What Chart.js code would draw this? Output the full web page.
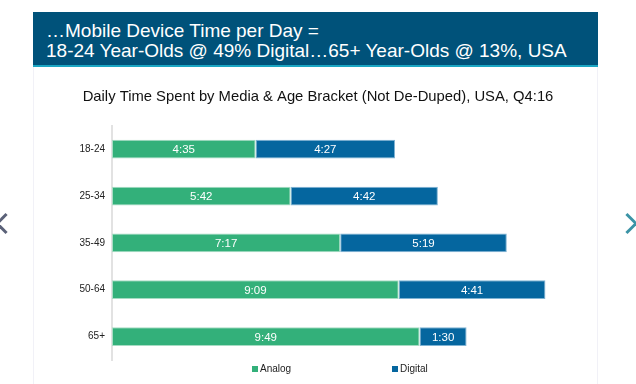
<!DOCTYPE html>
<html>
<head>
<meta charset="utf-8">
<script src="https://cdn.jsdelivr.net/npm/chart.js@4/dist/chart.umd.min.js"></script>
<style>
  body { margin: 0; width: 636px; height: 384px; background: #fff; position: relative; overflow: hidden; font-family: "Liberation Sans", Arial, sans-serif; }
  .slide { position: absolute; left: 33px; top: 12px; width: 565px; height: 372px; border-left: 1px solid #f1f1f7; border-right: 1px solid #f1f1f7; box-sizing: border-box; }
  .header { position: absolute; left: 33px; top: 12px; width: 552px; height: 44px; background: #00527a; border-bottom: 2px solid #1ba6c3; color: #fff; font-size: 19px; line-height: 20px; padding: 9px 0 0 13px; }
  .header div { white-space: nowrap; }
  #wrap { position: absolute; left: 33px; top: 67px; width: 565px; height: 317px; }
  .legend { position: absolute; top: 363px; font-size: 10px; color: #222; }
  .legend span { display: inline-block; width: 6px; height: 6px; margin-right: 2px; vertical-align: 0px; }
  .nav { position: absolute; top: 216px; width: 12px; height: 12px; border-left: 3px solid; border-bottom: 3px solid; }
</style>
</head>
<body>
<div class="slide"></div>
<div class="header">
  <div>…Mobile Device Time per Day =</div>
  <div>18-24 Year-Olds @ 49% Digital…65+ Year-Olds @ 13%, USA</div>
</div>
<div id="wrap"><canvas id="myChart"></canvas></div>
<div class="legend" style="left:252px"><span style="background:#33b07a"></span>Analog</div>
<div class="legend" style="left:392px"><span style="background:#05669f"></span>Digital</div>
<div class="nav" style="left:-2px;border-color:#5b6178;transform:rotate(45deg)"></div>
<div class="nav" style="left:620px;border-color:#3b93a6;transform:rotate(-135deg)"></div>
<script>
// minutes per day, Q4:16
const ageBrackets = ["18-24", "25-34", "35-49", "50-64", "65+"];
const analogMinutes = [275, 342, 437, 549, 589];
const digitalMinutes = [267, 282, 319, 281, 90];

function hhmm(m) {
  return Math.floor(m / 60) + ":" + String(m % 60).padStart(2, "0");
}

const barLabels = {
  id: "barLabels",
  afterDatasetsDraw(chart) {
    const ctx = chart.ctx;
    ctx.save();
    ctx.fillStyle = "#fff";
    ctx.font = '11.5px "Liberation Sans", Arial, sans-serif';
    ctx.textAlign = "center";
    ctx.textBaseline = "middle";
    chart.data.datasets.forEach((ds, i) => {
      chart.getDatasetMeta(i).data.forEach((bar, j) => {
        ctx.fillText(hhmm(ds.data[j]), (bar.x + bar.base) / 2, bar.y + 1);
      });
    });
    ctx.restore();
  },
};

const myChart = new Chart(document.getElementById("myChart"), {
  type: "bar",
  data: {
    labels: ageBrackets,
    datasets: [
      {
        label: "Analog",
        data: analogMinutes,
        backgroundColor: "#33b07a",
        borderColor: "#a6dcc3",
        borderWidth: 1,
        borderSkipped: false,
      },
      {
        label: "Digital",
        data: digitalMinutes,
        backgroundColor: "#05669f",
        borderColor: "#7fb3d3",
        borderWidth: 1,
        borderSkipped: false,
      },
    ],
  },
  options: {
    indexAxis: "y",
    responsive: true,
    maintainAspectRatio: false,
    animation: false,
    categoryPercentage: 0.8,
    barPercentage: 0.5,
    layout: { padding: { top: 0, left: 21, right: 16, bottom: 24 } },
    scales: {
      x: { stacked: true, display: false, min: 0, max: 900 },
      y: {
        stacked: true,
        grid: { display: false, drawTicks: false },
        border: { color: "#e2e2e2", width: 2 },
        ticks: { color: "#222", padding: 7, font: { size: 10, family: '"Liberation Sans", Arial, sans-serif' } },
        afterFit(scale) { scale.width = 58; },
      },
    },
    plugins: {
      legend: { display: false },
      tooltip: { enabled: false },
      title: {
        display: true,
        text: "Daily Time Spent by Media & Age Bracket (Not De-Duped), USA, Q4:16",
        color: "#111",
        font: { size: 14.8, weight: "normal", family: '"Liberation Sans", Arial, sans-serif' },
        padding: { top: 21, bottom: 20 },
      },
    },
  },
  plugins: [barLabels],
});
</script>
</body>
</html>
